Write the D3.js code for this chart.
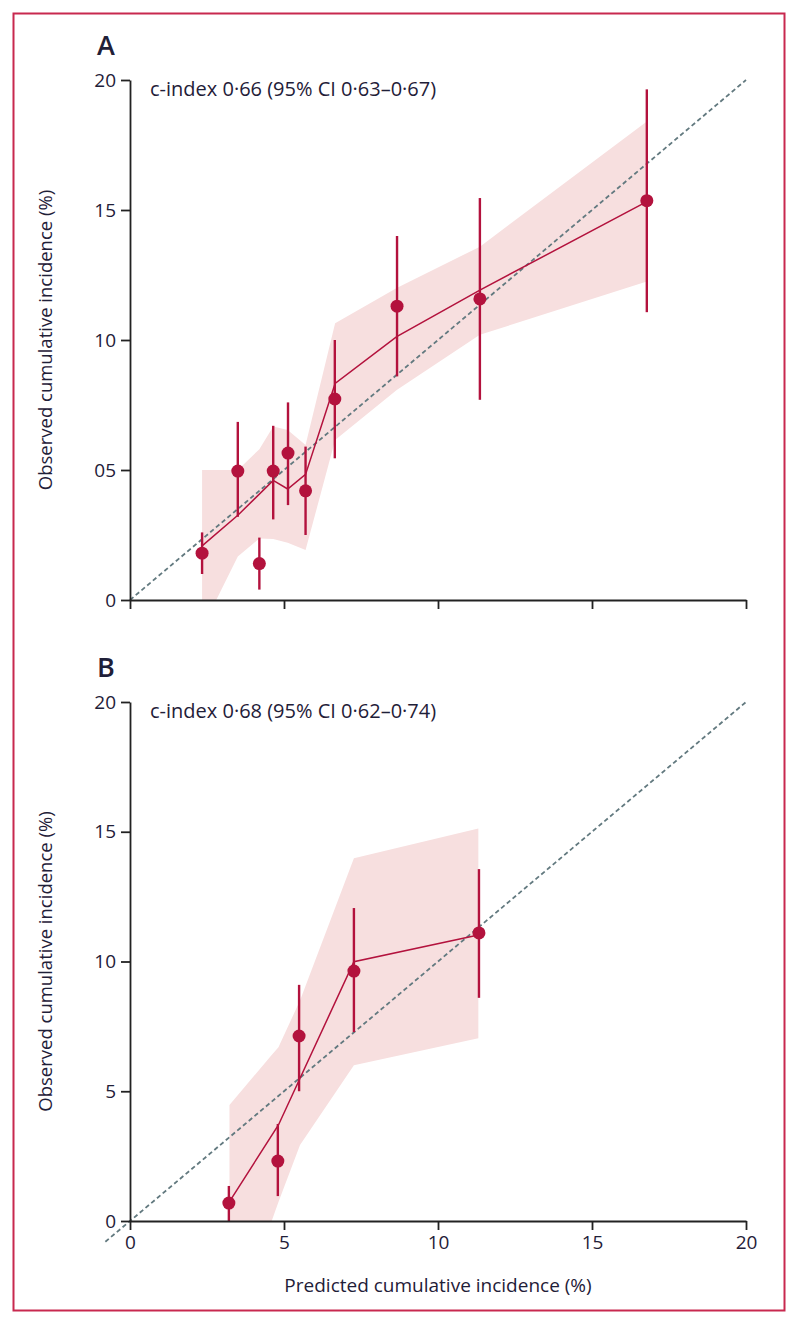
<!DOCTYPE html>
<html>
<head>
<meta charset="utf-8">
<script src="https://cdn.jsdelivr.net/npm/d3@7"></script>
<style>
  body { margin: 0; background: #fff; }
  svg text { font-family: "Open Sans", "Noto Sans", sans-serif; fill: #1f2038; }
  .axis path, .axis line { stroke: #222; stroke-width: 1.8; }
  .axis text { font-size: 19px; }
</style>
</head>
<body>
<div id="chart"></div>
<script>
// x ticks shared by both panels
var x_ticks = [0, 5, 10, 15, 20];
var y_ticks = [0, 5, 10, 15, 20];
var y_labels_a = ['0', '05', '10', '15', '20'];
var y_labels_b = ['0', '5', '10', '15', '20'];
var x_labels_b = ['0', '5', '10', '15', '20'];

// panel A: grouped observed vs predicted, with 95% CI
var a_pred = [2.34, 3.5, 4.2, 4.65, 5.13, 5.7, 6.65, 8.67, 11.36, 16.78];
var a_obs  = [1.8, 4.96, 1.4, 4.96, 5.65, 4.2, 7.73, 11.3, 11.58, 15.36];
var a_lo   = [1.0, 3.2, 0.4, 3.1, 3.65, 2.5, 5.45, 8.6, 7.7, 11.07];
var a_hi   = [2.6, 6.85, 2.4, 6.7, 7.6, 5.9, 10.0, 14.0, 15.46, 19.64];

// panel A: smoothed calibration curve and its band
var a_curve_x = [2.35, 3.51, 4.65, 5.12, 5.7, 6.66, 8.66, 11.36, 16.78];
var a_curve_y = [2.09, 3.27, 4.6, 4.27, 4.83, 8.33, 10.13, 11.92, 15.32];
var a_band_x  = [2.34, 2.8, 3.5, 4.2, 4.65, 5.12, 5.7, 6.66, 8.66, 11.36, 16.78];
var a_band_lo = [0, 0, 1.67, 2.37, 2.35, 2.2, 1.92, 6.15, 8.08, 10.2, 12.25];
var a_band_hi = [5.0, 5.0, 5.0, 5.8, 6.67, 6.54, 5.96, 10.64, 12.0, 13.59, 18.4];

// panel B
var b_pred = [3.21, 4.8, 5.49, 7.27, 11.33];
var b_obs  = [0.69, 2.31, 7.13, 9.63, 11.1];
var b_lo   = [0, 0.96, 5.0, 7.28, 8.6];
var b_hi   = [1.35, 3.74, 9.1, 12.06, 13.56];

var b_curve_x = [3.23, 4.82, 5.52, 7.27, 11.31];
var b_curve_y = [0.75, 3.7, 5.5, 9.99, 11.02];
var b_band_x  = [3.23, 4.6, 4.82, 5.52, 7.27, 11.31];
var b_band_lo = [0, 0, 0.73, 2.93, 6.0, 7.04];
var b_band_hi = [4.47, 6.4, 6.7, 8.5, 13.98, 15.13];

var W = 800, H = 1325;
var red = '#b3123d';

var svg = d3.select('#chart').append('svg')
  .attr('width', W)
  .attr('height', H);

svg.append('rect')
  .attr('x', 13.5).attr('y', 13.5)
  .attr('width', 771).attr('height', 1297)
  .attr('fill', 'none')
  .attr('stroke', '#c8294f')
  .attr('stroke-width', 2);

function zip(xs, ys) {
  return xs.map((v, i) => [v, ys[i]]);
}

function graph_panel(opts) {
  var x = d3.scaleLinear().domain([0, 20]).range([130, 746]);
  var y = d3.scaleLinear().domain([0, 20]).range([opts.bottom, opts.top]);

  var g = svg.append('g').attr('class', 'panel');

  // CI band
  var area = d3.area()
    .x(d => x(d[0]))
    .y0(d => y(d[1]))
    .y1(d => y(d[2]));
  g.append('path')
    .datum(opts.band_x.map((v, i) => [v, opts.band_lo[i], opts.band_hi[i]]))
    .attr('d', area)
    .attr('fill', '#f7dfdf');

  // line of identity
  g.append('line')
    .attr('x1', x(opts.diag_from)).attr('y1', y(opts.diag_from))
    .attr('x2', x(20)).attr('y2', y(20))
    .attr('stroke', '#62797f')
    .attr('stroke-width', 1.8)
    .attr('stroke-dasharray', '4.5,3');

  // smoothed curve
  g.append('path')
    .datum(zip(opts.curve_x, opts.curve_y))
    .attr('d', d3.line().x(d => x(d[0])).y(d => y(d[1])))
    .attr('fill', 'none')
    .attr('stroke', red)
    .attr('stroke-width', 1.5);

  // error bars
  g.selectAll('.err')
    .data(opts.pred)
    .enter().append('line')
    .attr('class', 'err')
    .attr('x1', d => x(d)).attr('x2', d => x(d))
    .attr('y1', (d, i) => y(opts.lo[i]))
    .attr('y2', (d, i) => y(opts.hi[i]))
    .attr('stroke', red)
    .attr('stroke-width', 2.4);

  g.selectAll('.pt')
    .data(opts.pred)
    .enter().append('circle')
    .attr('class', 'pt')
    .attr('cx', d => x(d))
    .attr('cy', (d, i) => y(opts.obs[i]))
    .attr('r', 6.5)
    .attr('fill', red);

  // axes
  g.append('g')
    .attr('class', 'axis')
    .attr('transform', `translate(130, 0)`)
    .call(d3.axisLeft(y)
          .tickValues(y_ticks)
          .tickSize(9)
          .tickSizeOuter(0)
          .tickPadding(5)
          .tickFormat((d, i) => opts.y_labels[i]));

  g.append('g')
    .attr('class', 'axis')
    .attr('transform', `translate(0, ${ opts.bottom })`)
    .call(d3.axisBottom(x)
          .tickValues(x_ticks)
          .tickSize(9)
          .tickSizeOuter(0)
          .tickPadding(6)
          .tickFormat((d, i) => opts.x_labels ? opts.x_labels[i] : ''));

  g.selectAll('.axis .domain').attr('stroke-width', 1.8);

  // texts
  g.append('text')
    .attr('x', 97)
    .attr('y', opts.top - 25)
    .attr('font-size', 27)
    .attr('font-weight', 600)
    .text(opts.letter);

  g.append('text')
    .attr('x', 150)
    .attr('y', opts.top + 16)
    .attr('font-size', 20)
    .text(opts.title);

  g.append('text')
    .attr('transform', `translate(52, ${ (opts.top + opts.bottom) / 2 }) rotate(-90)`)
    .attr('text-anchor', 'middle')
    .attr('font-size', 18.5)
    .text('Observed cumulative incidence (%)');
}

graph_panel({
  letter: 'A', top: 80, bottom: 600,
  title: 'c-index 0·66 (95% CI 0·63–0·67)',
  pred: a_pred, obs: a_obs, lo: a_lo, hi: a_hi,
  curve_x: a_curve_x, curve_y: a_curve_y,
  band_x: a_band_x, band_lo: a_band_lo, band_hi: a_band_hi,
  y_labels: y_labels_a, x_labels: null,
  diag_from: 0
});

graph_panel({
  letter: 'B', top: 702, bottom: 1221,
  title: 'c-index 0·68 (95% CI 0·62–0·74)',
  pred: b_pred, obs: b_obs, lo: b_lo, hi: b_hi,
  curve_x: b_curve_x, curve_y: b_curve_y,
  band_x: b_band_x, band_lo: b_band_lo, band_hi: b_band_hi,
  y_labels: y_labels_b, x_labels: x_labels_b,
  diag_from: -0.8
});

svg.append('text')
  .attr('x', 438)
  .attr('y', 1292)
  .attr('text-anchor', 'middle')
  .attr('font-size', 19)
  .text('Predicted cumulative incidence (%)');
</script>
</body>
</html>
